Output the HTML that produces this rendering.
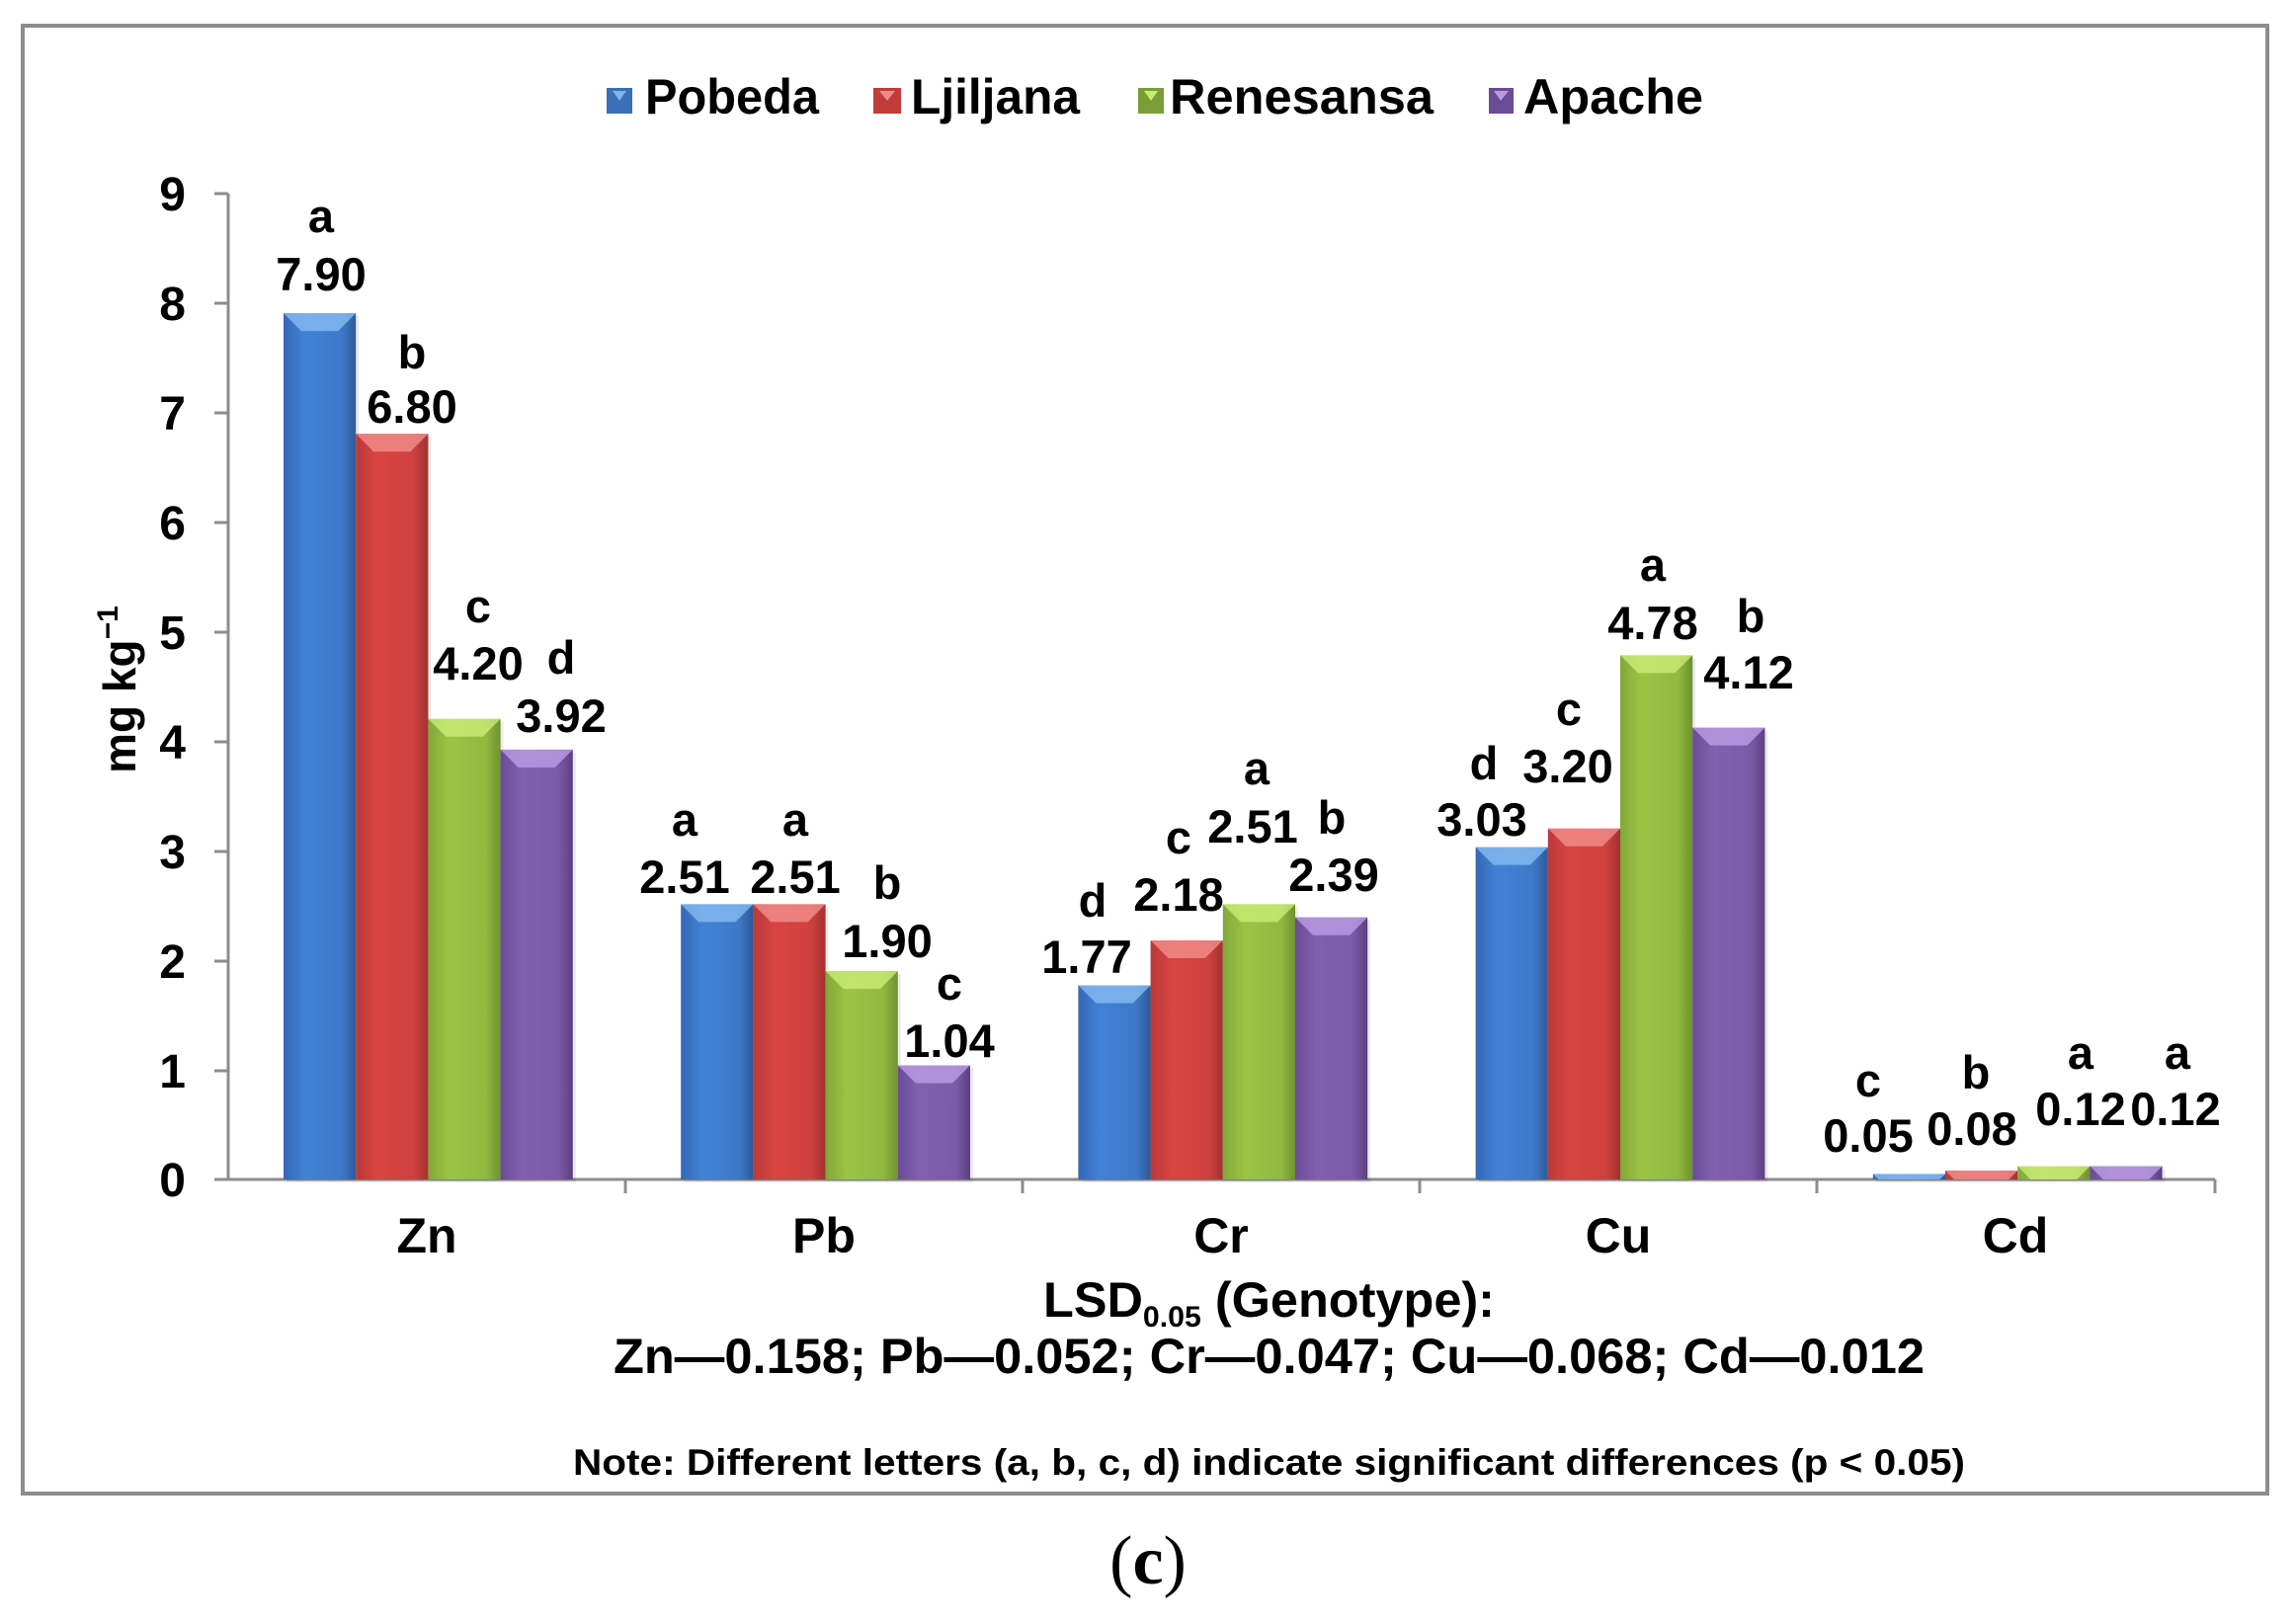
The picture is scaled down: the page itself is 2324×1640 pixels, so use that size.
<!DOCTYPE html>
<html><head><meta charset="utf-8"><style>
html,body{margin:0;padding:0;background:#fff;}
svg{display:block;}
text{font-family:"Liberation Sans",Arial,sans-serif;font-weight:bold;fill:#000;}
</style></head><body>
<svg width="2324" height="1640" viewBox="0 0 2324 1640" xmlns="http://www.w3.org/2000/svg">
<defs>
<linearGradient id="gb" x1="0" y1="0" x2="1" y2="0"><stop offset="0" stop-color="#3468b4"/><stop offset="0.3" stop-color="#4282d6"/><stop offset="0.8" stop-color="#3d79c8"/><stop offset="1" stop-color="#2d5a98"/></linearGradient>
<linearGradient id="gr" x1="0" y1="0" x2="1" y2="0"><stop offset="0" stop-color="#b83a38"/><stop offset="0.3" stop-color="#d84442"/><stop offset="0.8" stop-color="#cf403e"/><stop offset="1" stop-color="#a23230"/></linearGradient>
<linearGradient id="gg" x1="0" y1="0" x2="1" y2="0"><stop offset="0" stop-color="#82a83a"/><stop offset="0.3" stop-color="#9cc444"/><stop offset="0.8" stop-color="#92b940"/><stop offset="1" stop-color="#6f9130"/></linearGradient>
<linearGradient id="gp" x1="0" y1="0" x2="1" y2="0"><stop offset="0" stop-color="#6a4c94"/><stop offset="0.3" stop-color="#8260b0"/><stop offset="0.8" stop-color="#7b5aa8"/><stop offset="1" stop-color="#5c4082"/></linearGradient>
</defs>
<rect x="23" y="26" width="2272" height="1486" fill="#fff" stroke="#8c8c8c" stroke-width="4"/>

<!-- legend -->
<rect x="614" y="89" width="26" height="26" fill="#3a70b8"/><polygon points="620,92 634,92 627,102" fill="#7fb4f0"/>
<text x="653" y="115" font-size="50" textLength="176" lengthAdjust="spacingAndGlyphs">Pobeda</text>
<rect x="884" y="89" width="28" height="26" fill="#c23c3a"/><polygon points="890,92 906,92 898,102" fill="#f08a88"/>
<text x="922" y="115" font-size="50" textLength="171" lengthAdjust="spacingAndGlyphs">Ljiljana</text>
<rect x="1152" y="89" width="26" height="26" fill="#7a9e36"/><polygon points="1158,92 1172,92 1165,102" fill="#c8ec70"/>
<text x="1184" y="115" font-size="50" textLength="267" lengthAdjust="spacingAndGlyphs">Renesansa</text>
<rect x="1507" y="89" width="25" height="26" fill="#6a4c94"/><polygon points="1512,92 1527,92 1519,102" fill="#b898e0"/>
<text x="1542" y="115" font-size="50" textLength="182" lengthAdjust="spacingAndGlyphs">Apache</text>

<!-- y axis -->
<g stroke="#8c8c8c" stroke-width="3">
<line x1="231" y1="196" x2="231" y2="1194"/>
<line x1="217" y1="196" x2="231" y2="196"/><line x1="217" y1="307" x2="231" y2="307"/>
<line x1="217" y1="418" x2="231" y2="418"/><line x1="217" y1="529" x2="231" y2="529"/>
<line x1="217" y1="640" x2="231" y2="640"/><line x1="217" y1="751" x2="231" y2="751"/>
<line x1="217" y1="862" x2="231" y2="862"/><line x1="217" y1="973" x2="231" y2="973"/>
<line x1="217" y1="1084" x2="231" y2="1084"/><line x1="217" y1="1194" x2="231" y2="1194"/>
<line x1="231" y1="1194" x2="2242" y2="1194"/>
<line x1="633" y1="1194" x2="633" y2="1208"/><line x1="1035" y1="1194" x2="1035" y2="1208"/>
<line x1="1437" y1="1194" x2="1437" y2="1208"/><line x1="1839" y1="1194" x2="1839" y2="1208"/>
<line x1="2242" y1="1194" x2="2242" y2="1208"/>
</g>
<g font-size="48" text-anchor="end">
<text x="188" y="213">9</text><text x="188" y="324">8</text><text x="188" y="435">7</text>
<text x="188" y="546">6</text><text x="188" y="657">5</text><text x="188" y="768">4</text>
<text x="188" y="879">3</text><text x="188" y="990">2</text><text x="188" y="1101">1</text>
<text x="188" y="1211">0</text>
</g>
<text transform="translate(137,698) rotate(-90)" font-size="46" text-anchor="middle">mg kg<tspan font-size="30" dy="-18">−1</tspan></text>

<!-- bars -->
<g id="bars"></g>

<!-- category labels -->
<g font-size="50" text-anchor="middle">
<text x="432" y="1268">Zn</text><text x="834" y="1268">Pb</text><text x="1236" y="1268">Cr</text>
<text x="1638" y="1268">Cu</text><text x="2040" y="1268">Cd</text>
</g>

<!-- data labels -->
<g font-size="47" text-anchor="middle">
<text x="325" y="294">7.90</text><text x="325" y="235">a</text>
<text x="417" y="428">6.80</text><text x="417" y="373">b</text>
<text x="484" y="688">4.20</text><text x="484" y="630">c</text>
<text x="568" y="741">3.92</text><text x="568" y="682">d</text>
<text x="693" y="904">2.51</text><text x="693" y="846">a</text>
<text x="805" y="904">2.51</text><text x="805" y="846">a</text>
<text x="898" y="969">1.90</text><text x="898" y="910">b</text>
<text x="961" y="1070">1.04</text><text x="961" y="1012">c</text>
<text x="1100" y="985">1.77</text><text x="1106" y="928">d</text>
<text x="1193" y="922">2.18</text><text x="1193" y="864">c</text>
<text x="1268" y="853">2.51</text><text x="1272" y="794">a</text>
<text x="1350" y="902">2.39</text><text x="1348" y="844">b</text>
<text x="1500" y="846">3.03</text><text x="1502" y="789">d</text>
<text x="1587" y="792">3.20</text><text x="1588" y="734">c</text>
<text x="1673" y="647">4.78</text><text x="1673" y="588">a</text>
<text x="1770" y="697">4.12</text><text x="1772" y="640">b</text>
<text x="1891" y="1166">0.05</text><text x="1891" y="1110">c</text>
<text x="1996" y="1159">0.08</text><text x="2000" y="1102">b</text>
<text x="2106" y="1139">0.12</text><text x="2106" y="1082">a</text>
<text x="2202" y="1139">0.12</text><text x="2204" y="1082">a</text>
</g>

<!-- LSD text -->
<text x="1056" y="1333" font-size="50" textLength="457" lengthAdjust="spacingAndGlyphs">LSD<tspan font-size="30" dy="10">0.05</tspan><tspan dy="-10"> (Genotype):</tspan></text>
<text x="621" y="1390" font-size="50" textLength="1327" lengthAdjust="spacingAndGlyphs">Zn—0.158; Pb—0.052; Cr—0.047; Cu—0.068; Cd—0.012</text>
<text x="580" y="1493" font-size="37" textLength="1409" lengthAdjust="spacingAndGlyphs">Note: Different  letters (a, b, c, d) indicate significant  differences  (p &lt; 0.05)</text>

<text x="1162" y="1603" font-size="70" text-anchor="middle" style="font-family:'Liberation Serif',serif;font-weight:normal">(<tspan font-weight="bold">c</tspan>)</text>
</svg>
<script>
(function(){
var vals=[[7.90,6.80,4.20,3.92],[2.51,2.51,1.90,1.04],[1.77,2.18,2.51,2.39],[3.03,3.20,4.78,4.12],[0.05,0.08,0.12,0.12]];
var grads=['gb','gr','gg','gp'];
var lights=['#8cc0f4','#f49492','#cdf07a','#c2a2ea'];
var g=document.getElementById('bars');var ns='http://www.w3.org/2000/svg';
var s='';
for(var c=0;c<5;c++){for(var i=0;i<4;i++){
var x=231+c*402.2+56+i*73.2;var w=73.2;var h=vals[c][i]*111;var y=1194-h;
s+='<rect x="'+(x+3)+'" y="'+(y+3)+'" width="'+w+'" height="'+h+'" fill="#000" opacity="0.08"/>';
s+='<rect x="'+x+'" y="'+y+'" width="'+w+'" height="'+h+'" fill="url(#'+grads[i]+')"/>';
var b=Math.min(18,h);
if(h>4){s+='<polygon points="'+x+','+y+' '+(x+w)+','+y+' '+(x+w-b)+','+(y+b)+' '+(x+b)+','+(y+b)+'" fill="'+lights[i]+'" opacity="0.75"/>';}
else{s+='<rect x="'+x+'" y="'+y+'" width="'+w+'" height="'+(h/2)+'" fill="'+lights[i]+'" opacity="0.8"/>';}
}}
g.innerHTML=s;
})();
</script>
</body></html>
